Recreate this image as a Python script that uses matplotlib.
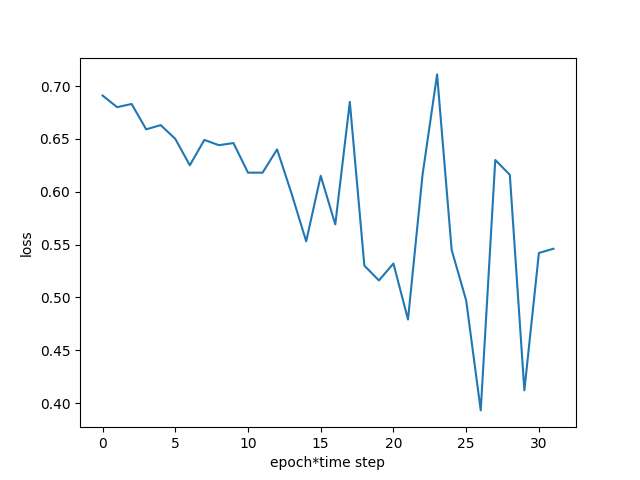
import matplotlib
matplotlib.use("Agg")
import matplotlib.pyplot as plt

# loss per epoch*time step
loss = [0.691, 0.680, 0.683, 0.659, 0.663, 0.650, 0.625, 0.649, 0.644, 0.646,
        0.618, 0.618, 0.640, 0.598, 0.553, 0.615, 0.569, 0.685, 0.530, 0.516,
        0.532, 0.479, 0.616, 0.711, 0.545, 0.497, 0.393, 0.630, 0.616, 0.412,
        0.542, 0.546]
steps = list(range(len(loss)))

fig = plt.figure(figsize=(6.4, 4.8), dpi=100)
plt.plot(steps, loss)
plt.xlabel("epoch*time step")
plt.ylabel("loss")
plt.savefig("out.png")
